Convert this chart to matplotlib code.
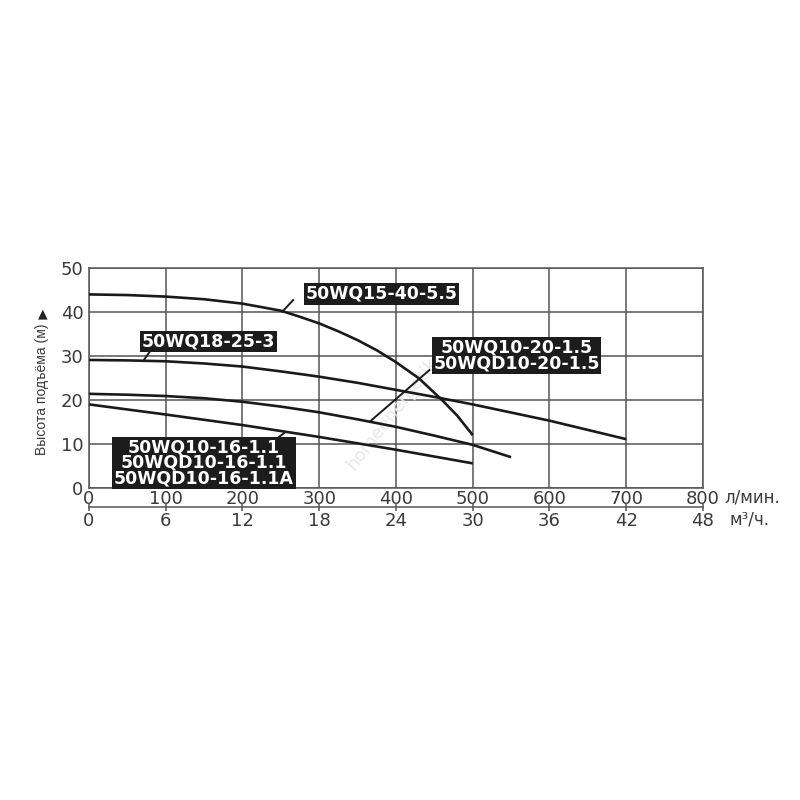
import matplotlib
matplotlib.use("Agg")
import matplotlib.pyplot as plt

# pump curves: flow in l/min, head in m
flow_15_40 = [0, 50, 100, 150, 200, 250, 275, 300, 325, 350, 375, 400, 430, 460, 480, 500]
head_15_40 = [44.0, 43.85, 43.5, 42.9, 41.9, 40.3, 38.9, 37.4, 35.6, 33.6, 31.3, 28.6,
              24.9, 20.0, 16.4, 12.0]

flow_18_25 = [0, 50, 100, 150, 200, 250, 300, 350, 400, 450, 500, 600, 700]
head_18_25 = [29.1, 29.0, 28.8, 28.3, 27.6, 26.5, 25.3, 23.9, 22.3, 20.7, 19.0, 15.3, 11.1]

flow_10_20 = [0, 50, 100, 150, 200, 250, 300, 350, 400, 450, 500, 550]
head_10_20 = [21.4, 21.2, 20.9, 20.4, 19.6, 18.5, 17.2, 15.6, 13.9, 11.9, 9.8, 7.0]

flow_10_16 = [0, 100, 200, 300, 400, 500]
head_10_16 = [19.0, 16.7, 14.3, 11.6, 8.7, 5.6]

# labels: text, box centre, leader line (from, to)
labels = ["50WQ15-40-5.5",
          "50WQ18-25-3",
          "50WQ10-20-1.5\n50WQD10-20-1.5",
          "50WQ10-16-1.1\n50WQD10-16-1.1\n50WQD10-16-1.1A"]
label_pos = [(381, 44.1), (156, 33.3), (557, 30.1), (149.6, 5.7)]
leaders = [((266, 42.7), (252, 40.1)),
           ((81.6, 31.6), (70.7, 28.9)),
           ((443.5, 26.8), (366, 15.1)),
           ((238, 10.3), (255, 12.6))]

lpm_ticks = [0, 100, 200, 300, 400, 500, 600, 700, 800]
m3h_ticks = [0, 6, 12, 18, 24, 30, 36, 42, 48]
head_ticks = [0, 10, 20, 30, 40, 50]

grid_col = "#555555"
tick_col = "#3a3a3a"

fig = plt.figure(figsize=(8, 8), dpi=100)
ax = fig.add_axes([0.11125, 0.39, 0.7675, 0.275])

ax.set_xlim(0, 800)
ax.set_ylim(0, 50)
ax.set_xticks(lpm_ticks)
ax.set_yticks(head_ticks)
ax.grid(True, color=grid_col, linewidth=1.1)
ax.set_axisbelow(True)
for s in ax.spines.values():
    s.set_color(grid_col)
    s.set_linewidth(1.1)
ax.tick_params(axis="both", length=0, labelsize=13, labelcolor=tick_col)
ax.tick_params(axis="x", pad=1.5)
ax.tick_params(axis="y", pad=4)

for fx, hy in [(flow_15_40, head_15_40), (flow_18_25, head_18_25),
               (flow_10_20, head_10_20), (flow_10_16, head_10_16)]:
    ax.plot(fx, hy, color="#1a1a1a", linewidth=1.9, solid_capstyle="butt",
            solid_joinstyle="round", zorder=3)

for (p0, p1) in leaders:
    ax.plot([p0[0], p1[0]], [p0[1], p1[1]], color="#1a1a1a", linewidth=1.4, zorder=3)

for txt, (lx, ly) in zip(labels, label_pos):
    ax.text(lx, ly, txt, ha="center", va="center", color="white",
            fontsize=12.5, fontweight="bold", linespacing=0.8,
            multialignment="center", zorder=5,
            bbox=dict(boxstyle="square,pad=0.1", facecolor="#1c1c1c", edgecolor="none"))

# faint watermark
ax.text(395, 17, "homeenergetik", rotation=52, fontsize=13, color="#e8e8e8",
        ha="center", va="center", zorder=1)

# second flow scale in m3/h
ax2 = ax.twiny()
ax2.set_xlim(0, 48)
ax2.set_xticks(m3h_ticks)
ax2.xaxis.set_ticks_position("bottom")
ax2.xaxis.set_label_position("bottom")
ax2.spines["bottom"].set_position(("outward", 13.5))
for name in ["top", "left", "right"]:
    ax2.spines[name].set_visible(False)
ax2.spines["bottom"].set_color(grid_col)
ax2.spines["bottom"].set_linewidth(1.1)
ax2.tick_params(axis="x", direction="inout", length=6, width=1.1, color=grid_col,
                labelsize=13, labelcolor=tick_col, pad=1)

# units
fig.text(0.905, 0.378, "л/мин.", fontsize=12, color=tick_col, ha="left", va="center")
fig.text(0.912, 0.351, "м³/ч.", fontsize=12, color=tick_col, ha="left", va="center")

# y axis label
fig.text(0.053, 0.514, "Высота подъёма (м)", rotation=90, fontsize=10,
         color=tick_col, ha="center", va="center", family="Liberation Sans")
fig.text(0.053, 0.607, "▲", fontsize=9, color="#222222", ha="center", va="center")

fig.savefig("out.png", dpi=100, facecolor="white")
